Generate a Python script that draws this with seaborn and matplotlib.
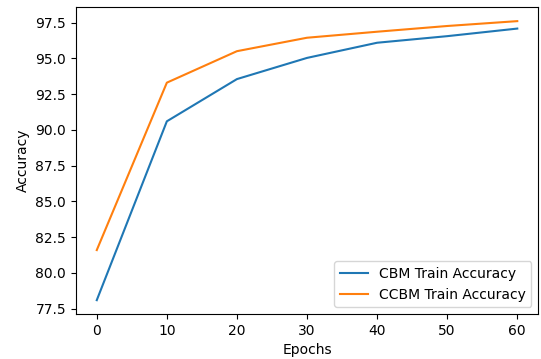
import matplotlib
matplotlib.use("Agg")
import matplotlib.pyplot as plt
import seaborn as sns
import pandas as pd

# accuracy per epoch for the two models
epochs = [0, 10, 20, 30, 40, 50, 60]
cbm_acc = [78.1, 90.6, 93.55, 95.03, 96.09, 96.55, 97.08]
ccbm_acc = [81.6, 93.3, 95.5, 96.44, 96.86, 97.26, 97.6]

df = pd.DataFrame({
    "Epochs": epochs * 2,
    "Accuracy": cbm_acc + ccbm_acc,
    "model": ["CBM Train Accuracy"] * len(epochs) + ["CCBM Train Accuracy"] * len(epochs),
})

fig, ax = plt.subplots(figsize=(5.41, 3.59), dpi=100)
sns.lineplot(data=df, x="Epochs", y="Accuracy", hue="model",
             palette=["#1f77b4", "#ff7f0e"], ax=ax)
ax.legend(loc="lower right")
ax.set_yticks([77.5, 80.0, 82.5, 85.0, 87.5, 90.0, 92.5, 95.0, 97.5])
fig.subplots_adjust(left=0.14, right=0.995, top=0.98, bottom=0.125)
fig.savefig("out.png")
